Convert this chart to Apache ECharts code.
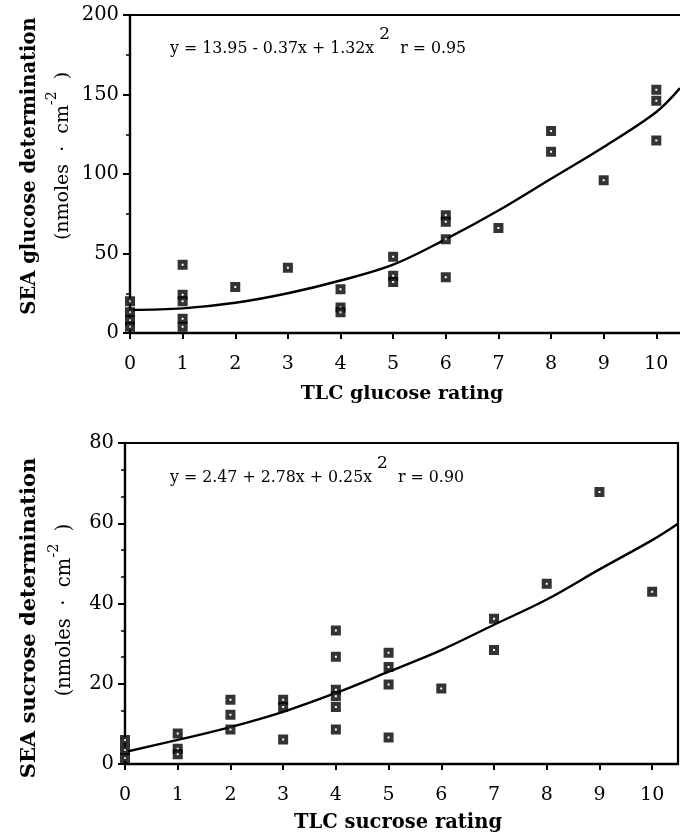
<!DOCTYPE html>
<html>
<head>
<meta charset="utf-8">
<script src="https://cdn.jsdelivr.net/npm/echarts@6/dist/echarts.min.js"></script>
<style>
  html, body { margin: 0; padding: 0; background: #fff; }
  #chart { width: 680px; height: 837px; }
</style>
</head>
<body>
<div id="chart"></div>
<script>
// glucose panel: TLC rating vs SEA determination
const glucoseRating = [0, 0, 0, 0, 1, 1, 1, 1, 1, 2, 3, 4, 4, 4, 5, 5, 5, 6, 6, 6, 6, 7, 8, 8, 9, 10, 10, 10]
const glucoseValue  = [20, 13, 8, 4, 43, 24, 20, 9, 4, 29, 41, 27.5, 16, 13, 48, 36, 32, 74, 70, 59, 35, 66, 127, 114, 96, 153, 146, 121]
// fitted curve
const glucoseFitX = [0, 1, 2, 3, 4, 5, 6, 7, 8, 9, 10, 10.45]
const glucoseFitY = [14.5, 15.5, 19, 25, 33, 43, 59, 77, 97, 117, 139, 154]

// sucrose panel
const sucroseRating = [0, 0, 0, 1, 1, 1, 2, 2, 2, 3, 3, 3, 4, 4, 4, 4, 4, 4, 5, 5, 5, 5, 6, 7, 7, 8, 9, 10]
const sucroseValue  = [6, 3.5, 1.5, 7.6, 3.8, 2.4, 16, 12.3, 8.6, 16, 14.2, 6.1, 33.3, 26.7, 18.5, 16.9, 14.2, 8.6, 27.7, 24.2, 19.8, 6.6, 18.8, 36.2, 28.4, 44.9, 67.8, 42.9]
const sucroseFitX = [0, 1, 2, 3, 4, 5, 6, 7, 8, 9, 10, 10.49]
const sucroseFitY = [3, 6, 9.2, 13, 17.7, 23, 28.4, 34.7, 41, 48.5, 55.8, 59.9]

const xTicks = [0, 1, 2, 3, 4, 5, 6, 7, 8, 9, 10]

const glucoseEq = ['y = 13.95 - 0.37x + 1.32x ', '2', '  r = 0.95']
const sucroseEq = ['y = 2.47 + 2.78x + 0.25x ', '2', '  r = 0.90']

const FONT = 'DejaVu Serif'

const zip = (a, b) => a.map((v, i) => [v, b[i]])

function xAxisOf(grid, max){
    return {
        type: 'value', gridIndex: grid, min: 0, max: max, interval: 1,
        axisLine: { onZero: false, lineStyle: { color: '#000', width: 2.4 } },
        axisTick: { length: 6, lineStyle: { color: '#000', width: 2 } },
        splitLine: { show: false },
        axisLabel: {
            margin: 22, color: '#000', fontFamily: FONT, fontSize: 19,
            showMaxLabel: false,
            formatter: v => xTicks.indexOf(v) >= 0 ? String(v) : ''
        }
    }
}
function yAxisOf(grid, max, interval, minorSplit){
    return {
        type: 'value', gridIndex: grid, min: 0, max: max, interval: interval,
        axisLine: { show: true, lineStyle: { color: '#000', width: 2.4 } },
        axisTick: { show: true, length: 7, lineStyle: { color: '#000', width: 2 } },
        minorTick: { show: true, splitNumber: minorSplit, length: 4, lineStyle: { color: '#000', width: 1.5 } },
        splitLine: { show: false },
        axisLabel: { margin: 11, color: '#000', fontFamily: FONT, fontSize: 19.5 }
    }
}
// plain border lines (top / right) of the boxes
function borderAxis(grid, pos){
    return {
        type: 'value', gridIndex: grid, position: pos, min: 0, max: 1,
        axisLine: { show: true, onZero: false, lineStyle: { color: '#000', width: 2.2 } },
        axisTick: { show: false }, axisLabel: { show: false }, splitLine: { show: false }
    }
}

const pointStyle = {
    type: 'scatter', symbol: 'rect', symbolSize: 6,
    itemStyle: { color: '#fff', borderColor: '#000', borderWidth: 4 },
    z: 5
}
const fitStyle = {
    type: 'line', smooth: 0.35, showSymbol: false, clip: true,
    lineStyle: { color: '#000', width: 2.4 }, z: 4
}

function eqText(parts, left, top){
    return {
        type: 'text', left: left, top: top,
        style: {
            text: '{t|' + parts[0] + '}{s|' + parts[1] + '}{t|' + parts[2] + '}',
            rich: {
                t: { fontFamily: FONT, fontSize: 15.8, color: '#000', lineHeight: 31, verticalAlign: 'bottom' },
                s: { fontFamily: FONT, fontSize: 17, color: '#000', lineHeight: 31, verticalAlign: 'top' }
            }
        }
    }
}
function yTitle(main, x1, y1, x2, y2, size, size2){
    return [{
        type: 'text', x: x1, y: y1, rotation: Math.PI / 2,
        style: { text: main, fontFamily: FONT, fontWeight: 'bold', fontSize: size, fill: '#000', align: 'center', verticalAlign: 'middle' }
    }, {
        type: 'text', x: x2, y: y2, rotation: Math.PI / 2,
        style: {
            text: '{t|(nmoles  ·  cm}{s|-2}{t|  )}', align: 'center', verticalAlign: 'middle',
            rich: {
                t: { fontFamily: FONT, fontSize: size2, fill: '#000', lineHeight: 28, verticalAlign: 'bottom' },
                s: { fontFamily: FONT, fontSize: size2 - 5, fill: '#000', lineHeight: 28, verticalAlign: 'top' }
            }
        }
    }]
}
function xTitle(text, cx, cy, size){
    return {
        type: 'text', x: cx, y: cy,
        style: { text: text, fontFamily: FONT, fontWeight: 'bold', fontSize: size, fill: '#000', align: 'center', verticalAlign: 'middle' }
    }
}

const chart = echarts.init(document.getElementById('chart'))
chart.setOption({
    backgroundColor: '#fff',
    animation: false,
    grid: [
        { left: 130, top: 15, width: 550, height: 318 },
        { left: 125, top: 443, width: 553, height: 321 }
    ],
    xAxis: [
        xAxisOf(0, 10.45),
        xAxisOf(1, 10.49),
        borderAxis(0, 'top'),
        borderAxis(1, 'top')
    ],
    yAxis: [
        yAxisOf(0, 200, 50, 2),
        yAxisOf(1, 80, 20, 3),
        borderAxis(1, 'right')
    ],
    series: [
        Object.assign({}, pointStyle, { xAxisIndex: 0, yAxisIndex: 0, data: zip(glucoseRating, glucoseValue) }),
        Object.assign({}, fitStyle, { xAxisIndex: 0, yAxisIndex: 0, data: zip(glucoseFitX, glucoseFitY) }),
        Object.assign({}, pointStyle, { xAxisIndex: 1, yAxisIndex: 1, data: zip(sucroseRating, sucroseValue) }),
        Object.assign({}, fitStyle, { xAxisIndex: 1, yAxisIndex: 1, data: zip(sucroseFitX, sucroseFitY) })
    ],
    graphic: [
        eqText(glucoseEq, 170, 26),
        eqText(sucroseEq, 170, 455),
        ...yTitle('SEA glucose determination', 30, 166, 59, 156, 19.5, 19),
        ...yTitle('SEA sucrose determination', 30, 618, 61, 610, 21, 19.5),
        xTitle('TLC glucose rating', 402, 394, 19),
        xTitle('TLC sucrose rating', 398, 823, 19.5)
    ]
})
</script>
</body>
</html>
